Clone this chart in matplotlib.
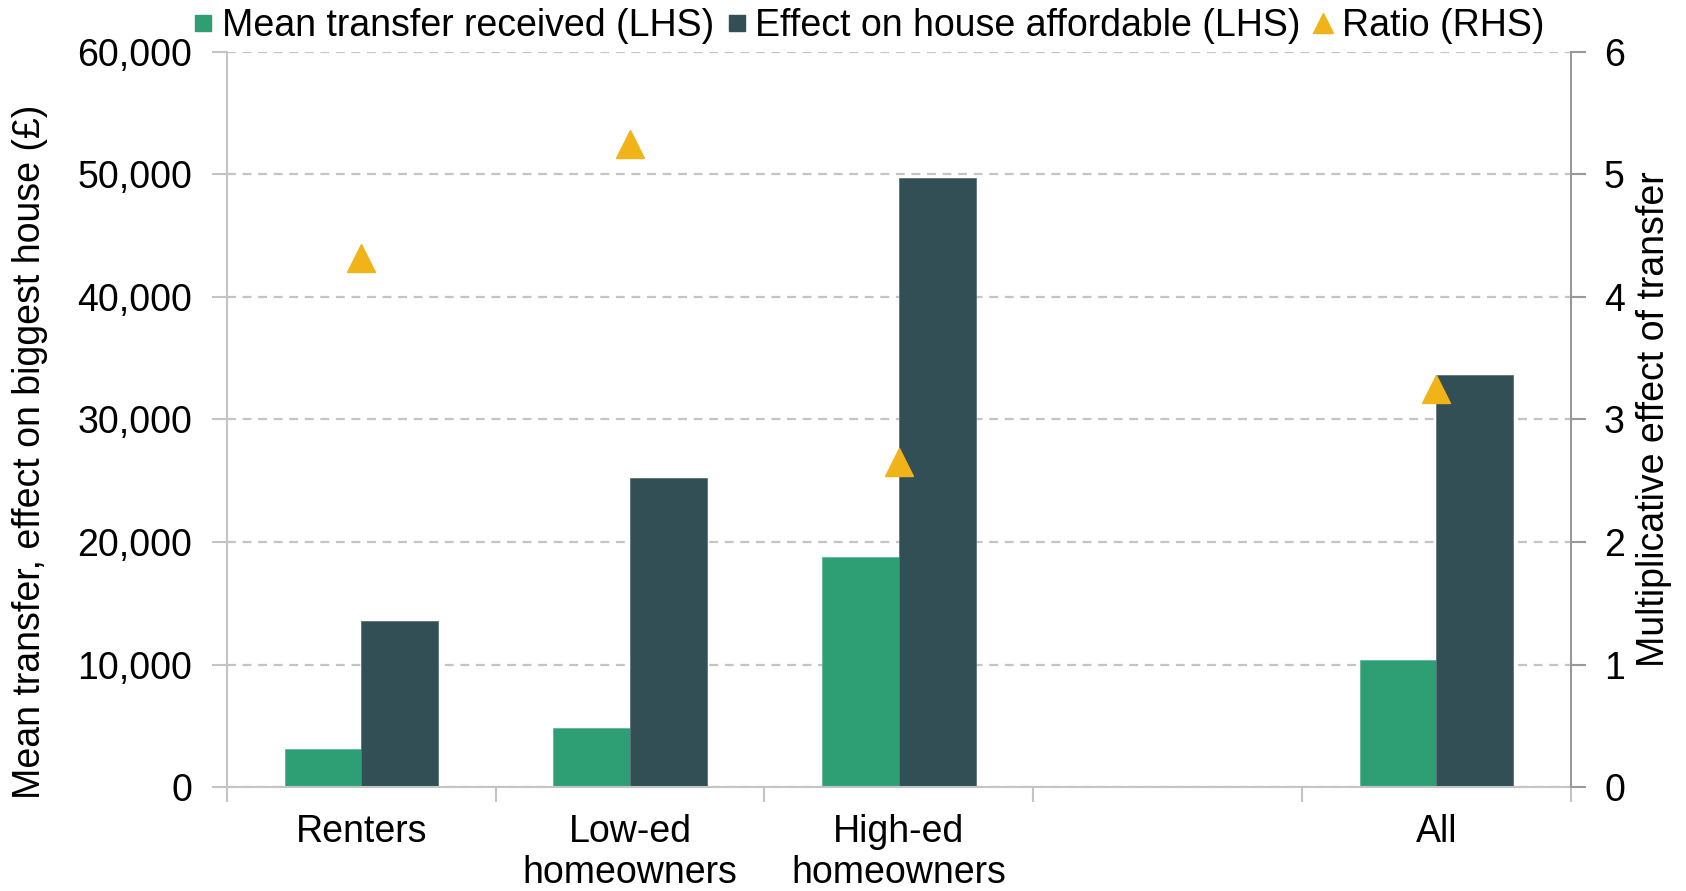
import matplotlib.pyplot as plt
from matplotlib.lines import Line2D
from matplotlib.ticker import FuncFormatter, MultipleLocator

plt.rcParams["font.family"] = ["Liberation Sans", "DejaVu Sans"]

# Values per group; the empty slot keeps a gap before "All"
categories = ["Renters", "Low-ed\nhomeowners", "High-ed\nhomeowners", "", "All"]
mean_transfer = [3150, 4800, 18750, None, 10350]
house_effect = [13600, 25250, 49700, None, 33650]
ratio = [4.32, 5.25, 2.65, None, 3.25]

GREEN = "#2e9e75"
DARK = "#324f55"
YELLOW = "#f0b419"
FS = 27


def plot_transfers() -> None:
    """
    Bar chart of mean transfers and their effect on house affordability,
    with the ratio of the two on a secondary axis
    """
    fig = plt.figure(figsize=(16.86, 8.91), dpi=100)
    ax = fig.add_axes([0.1346, 0.1164, 0.797, 0.8256])
    ax2 = ax.twinx()

    width = 0.2857
    for i, cat in enumerate(categories):
        if mean_transfer[i] is None:
            continue
        ax.bar(i - width / 2, mean_transfer[i], width, color=GREEN,
               edgecolor="#5fb896", linewidth=0.6, zorder=2)
        ax.bar(i + width / 2, house_effect[i], width, color=DARK,
               edgecolor="#5c7378", linewidth=0.6, zorder=2)
        ax2.plot(i, ratio[i], marker="^", markersize=19.5, color=YELLOW,
                 linestyle="none")

    ax.set_xlim(-0.5, len(categories) - 0.5)
    ax.set_ylim(0, 60000)
    ax2.set_ylim(0, 6)

    ax.yaxis.set_major_locator(MultipleLocator(10000))
    ax.yaxis.set_major_formatter(FuncFormatter(lambda v, _: f"{v:,.0f}"))
    ax2.yaxis.set_major_locator(MultipleLocator(1))

    ax.set_axisbelow(True)
    ax.grid(axis="y", color="#c4c4c4", linestyle=(0, (4, 3)), linewidth=1.6)

    # category labels centred in each slot, tick marks on slot boundaries
    ax.set_xticks(range(len(categories)))
    ax.set_xticklabels(categories, fontsize=FS, linespacing=1.2)
    ax.set_xticks([x - 0.5 for x in range(len(categories) + 1)], minor=True)
    ax.tick_params(axis="x", which="major", length=0, pad=19)
    ax.tick_params(axis="x", which="minor", length=11, width=1.5,
                   color="#c4c4c4")
    ax.tick_params(axis="y", length=11, width=1.5, color="#c4c4c4",
                   labelsize=FS, pad=14)
    ax2.tick_params(axis="y", length=11, width=1.5, color="#999999",
                    labelsize=FS, pad=13)

    for a in (ax, ax2):
        a.spines["top"].set_visible(False)
    ax.spines["left"].set_color("#c4c4c4")
    ax.spines["left"].set_linewidth(1.5)
    ax.spines["bottom"].set_color("#c4c4c4")
    ax.spines["bottom"].set_linewidth(1.5)
    ax.spines["right"].set_visible(False)
    ax2.spines["left"].set_visible(False)
    ax2.spines["bottom"].set_visible(False)
    ax2.spines["right"].set_color("#999999")
    ax2.spines["right"].set_linewidth(1.5)

    ax.set_ylabel("Mean transfer, effect on biggest house (£)", fontsize=FS,
                  va="center")
    ax.yaxis.set_label_coords(-0.1466, 0.456)
    ax2.set_ylabel("Multiplicative effect of transfer", fontsize=FS,
                   va="center")
    ax2.yaxis.set_label_coords(1.0618, 0.5)

    legend_elements = [
        Line2D([0], [0], marker="s", color="none", markerfacecolor=GREEN,
               markeredgecolor=GREEN, markersize=12,
               label="Mean transfer received (LHS)"),
        Line2D([0], [0], marker="s", color="none", markerfacecolor=DARK,
               markeredgecolor=DARK, markersize=12,
               label="Effect on house affordable (LHS)"),
        Line2D([0], [0], marker="^", color="none", markerfacecolor=YELLOW,
               markeredgecolor=YELLOW, markersize=14, label="Ratio (RHS)"),
    ]
    fig.legend(handles=legend_elements, loc="center", ncol=3,
               bbox_to_anchor=(0.515, 0.971), frameon=False, fontsize=FS,
               handlelength=0.6, handletextpad=0.2, columnspacing=0.3,
               borderpad=0)

    fig.savefig("out.png", dpi=100)


if __name__ == "__main__":
    plot_transfers()
